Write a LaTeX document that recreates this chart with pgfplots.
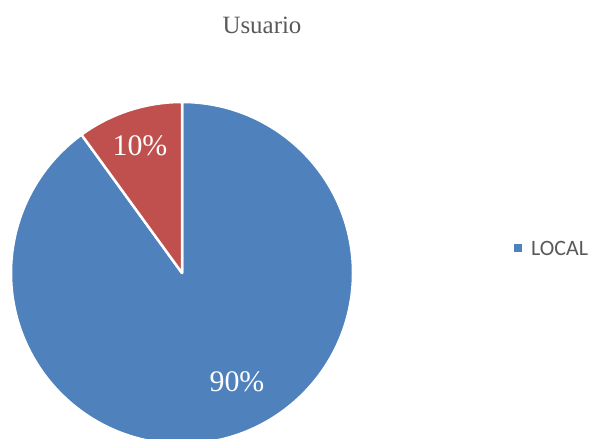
\documentclass[border=0pt]{standalone}
\usepackage{pgfplots}
\pgfplotsset{compat=1.18}
\usepackage{pgfplotstable}
\usepackage{fontspec}
\setmainfont{Liberation Serif}
\newfontfamily\legendfont{Carlito}
\definecolor{pieblue}{HTML}{4F81BD}
\definecolor{piered}{HTML}{C0504D}
\definecolor{txtgray}{HTML}{595959}

\pgfplotstableread{
slice value
LOCAL 90
OTRO 10
}\piedata

\begin{document}
\begin{tikzpicture}
\pgfkeys{/pgf/number format/assume math mode=true}
\pgfplotstablegetelem{0}{value}\of\piedata \edef\va{\pgfplotsretval}
\pgfplotstablegetelem{1}{value}\of\piedata \edef\vb{\pgfplotsretval}
\pgfmathsetmacro{\aend}{90-3.6*\va}
\begin{axis}[width=595bp,height=439bp,scale only axis,
  xmin=0,xmax=595,ymin=0,ymax=439,hide axis,clip=true]
\filldraw[fill=pieblue, draw=white, line width=2.5bp, line join=round]
  (axis cs:182,166) -- ++(90:171bp) arc[start angle=90,end angle=\aend,radius=171bp] -- cycle;
\filldraw[fill=piered, draw=white, line width=2.5bp, line join=round]
  (axis cs:182,166) -- ++(\aend:171bp) arc[start angle=\aend,end angle=-270,radius=171bp] -- cycle;
\node[white, font=\fontsize{30}{30}\selectfont] at (axis cs:140,293) {\pgfmathprintnumber[assume math mode=true]{\vb}\%};
\node[white, font=\fontsize{30}{30}\selectfont] at (axis cs:237,57) {\pgfmathprintnumber[assume math mode=true]{\va}\%};
\node[txtgray, font=\fontsize{25}{25}\selectfont] at (axis cs:262,414) {Usuario};
\fill[pieblue] (axis cs:514,187) rectangle (axis cs:522,195);
\node[anchor=west, txtgray, inner sep=0pt, font=\legendfont\fontsize{22}{22}\selectfont] at (axis cs:531,191) {LOCAL};
\end{axis}
\pgfresetboundingbox
\path (0,0) rectangle (595bp,439bp);
\end{tikzpicture}
\end{document}
